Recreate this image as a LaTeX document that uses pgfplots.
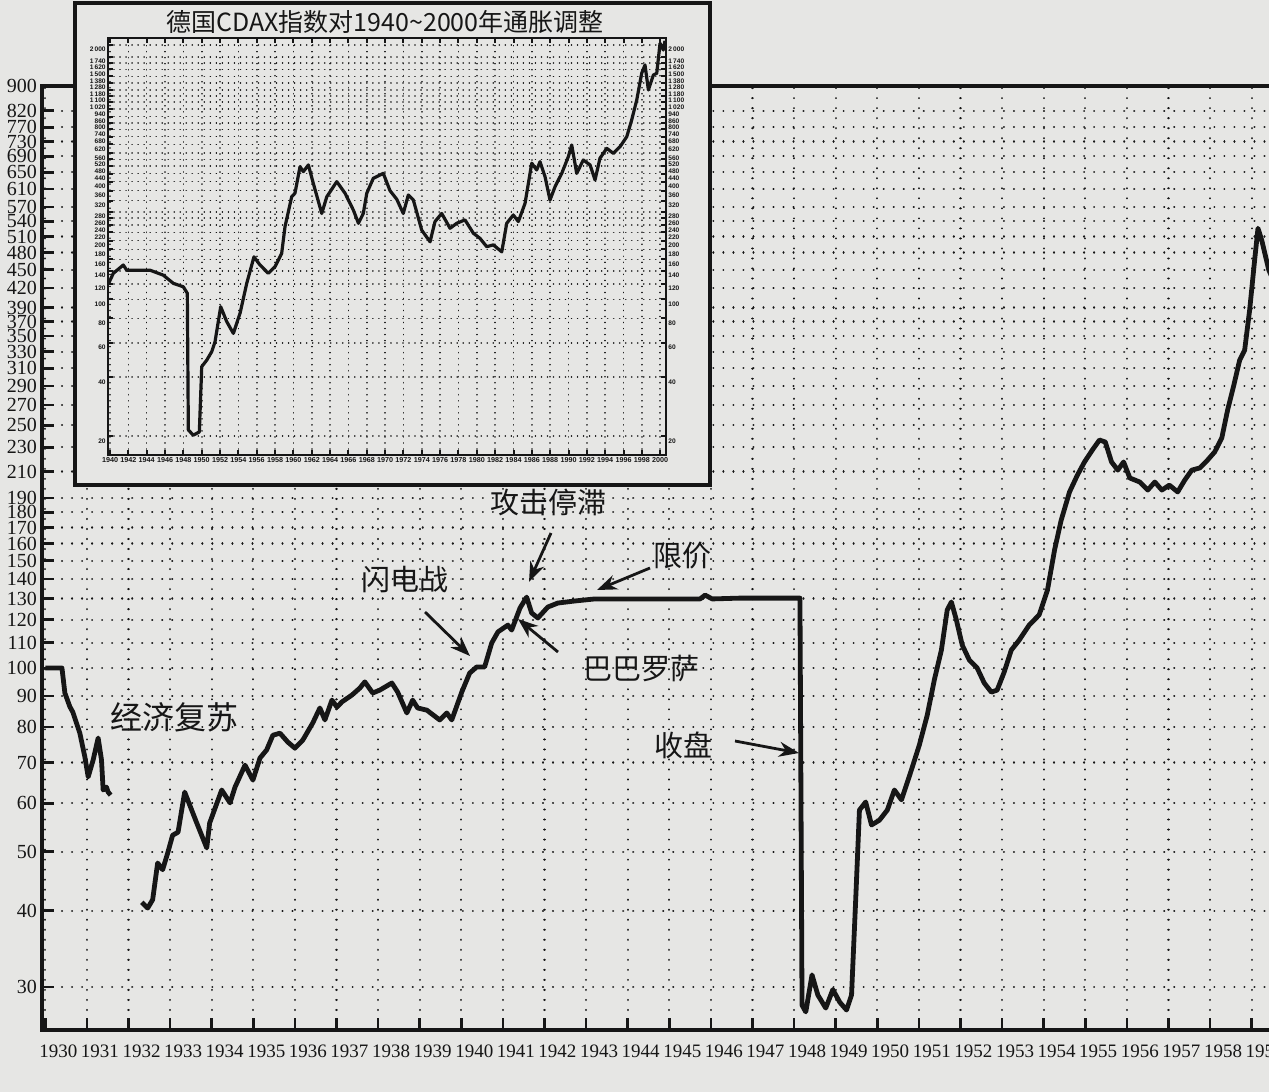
\documentclass[border=0pt]{standalone}
\usepackage{pgfplots}
\pgfplotsset{compat=1.18}
\usepackage{fontspec}
\setmainfont{Liberation Serif}
\newfontfamily\cjk{Noto Sans CJK SC}
\newfontfamily\insetfont{Liberation Sans}
\usetikzlibrary{arrows.meta}
\definecolor{paper}{RGB}{230,230,228}
\definecolor{ink}{RGB}{22,22,22}
\begin{document}
\begin{tikzpicture}
\begin{scope}[x=0.5pt,y=-0.5pt]
\fill[paper] (0,0) rectangle (1269,1092);
\end{scope}
% ---------------- main chart ----------------
\begin{axis}[
  at={(21pt,-515pt)}, anchor=south west, scale only axis,
  width=624pt, height=472pt,
  xmin=1929.92, xmax=1959.92,
  ymode=log, ymin=25.5, ymax=900,
  axis line style={line width=1.6pt, ink},
  xtick={1930,...,1959},
  xticklabels={1930,1931,1932,1933,1934,1935,1936,1937,1938,1939,1940,1941,1942,1943,1944,1945,1946,1947,1948,1949,1950,1951,1952,1953,1954,1955,1956,1957,1958,1959},
  minor x tick num=3,
  xtick pos=bottom, ytick pos=left,
  major tick length=6pt, minor tick length=3.5pt,
  every tick/.style={line width=1.3pt, ink},
  ytick={30,40,50,60,70,80,90,100,110,120,130,140,150,160,170,180,190,210,230,250,270,290,310,330,350,370,390,420,450,480,510,540,570,610,650,690,730,770,820,900},
  yticklabels={30,40,50,60,70,80,90,100,110,120,130,140,150,160,170,180,190,210,230,250,270,290,310,330,350,370,390,420,450,480,510,540,570,610,650,690,730,770,820,900},
  grid=major,
  major grid style={ink, line width=1.1pt, line cap=round, dash pattern=on 0.01pt off 5pt},
  xticklabel style={font=\fontsize{9.5}{9.5}\selectfont, xshift=6.5pt, yshift=-4pt, text=ink},
  yticklabel style={font=\fontsize{10}{10}\selectfont, text=ink, xshift=1pt, inner ysep=0pt, text height=0.66em, text depth=0pt},
]
\addplot[ink, line width=2.4pt, line join=round, mark=none] coordinates {
(1930.00,100)(1930.40,100)(1930.47,91)(1930.59,86.4)(1930.66,84.7)(1930.83,78.2)(1930.95,71.5)(1931.03,66.3)(1931.15,70.7)(1931.27,76.8)(1931.35,70.7)(1931.39,63.1)(1931.47,63.8)(1931.51,62.6)(1931.57,61.9)
};
\addplot[ink, line width=2.4pt, line join=round, mark=none] coordinates {
(1932.32,41.3)(1932.46,40.4)(1932.58,41.7)(1932.70,47.9)(1932.82,46.7)(1932.94,49.7)(1933.06,53.2)(1933.19,53.8)(1933.35,62.6)(1933.64,55.7)(1933.88,50.7)(1933.95,55.7)(1934.24,63.1)(1934.44,60.1)(1934.56,63.8)(1934.80,69.3)(1934.99,65.5)(1935.16,71.2)(1935.32,73.4)(1935.47,77.6)(1935.64,78.2)(1935.83,75.6)(1936.00,73.9)(1936.19,76.2)(1936.43,81.3)(1936.60,86.0)(1936.72,82.2)(1936.89,88.6)(1937.01,86.3)(1937.13,88.0)(1937.37,90.3)(1937.56,92.7)(1937.68,94.9)(1937.87,91.0)(1938.04,92.0)(1938.33,94.5)(1938.47,91.3)(1938.69,84.4)(1938.83,88.6)(1938.95,86.0)(1939.17,85.3)(1939.48,82.2)(1939.65,84.4)(1939.77,82.2)(1940.01,91.3)(1940.20,98.1)(1940.37,100.4)(1940.56,100.4)(1940.73,109.9)(1940.88,114.6)(1941.12,117.6)(1941.21,115.4)(1941.41,125.4)(1941.57,130.7)(1941.69,123.1)(1941.84,120.8)(1942.08,125.9)(1942.32,127.8)(1942.73,128.8)(1943.21,129.8)(1944.54,129.8)(1945.74,129.8)(1945.86,131.7)(1946.03,129.8)(1946.70,130.2)(1948.14,130.2)(1948.19,28.0)(1948.28,27.3)(1948.43,31.4)(1948.57,29.1)(1948.76,27.7)(1948.93,29.7)(1949.10,28.3)(1949.26,27.5)(1949.38,29.1)(1949.48,41.7)(1949.57,58.5)(1949.72,60.3)(1949.86,55.3)(1950.05,56.3)(1950.24,58.5)(1950.41,63.1)(1950.58,60.8)(1950.82,68.1)(1951.01,74.8)(1951.20,83.7)(1951.37,95.6)(1951.54,107.0)(1951.68,124.5)(1951.78,128.3)(1951.90,119.9)(1952.04,109.1)(1952.21,103.1)(1952.40,100)(1952.57,94.5)(1952.74,91.3)(1952.88,92.0)(1953.05,98.5)(1953.22,107.0)(1953.41,111.1)(1953.65,117.6)(1953.89,122.2)(1954.09,134.2)(1954.26,156.1)(1954.42,174.8)(1954.62,194.4)(1954.81,207.2)(1954.98,217.7)(1955.17,227.8)(1955.34,236.5)(1955.48,234.7)(1955.63,217.7)(1955.78,211.1)(1955.92,217.7)(1956.07,204.9)(1956.31,201.8)(1956.50,195.8)(1956.67,201.8)(1956.84,195.8)(1957.02,199.5)(1957.22,194.4)(1957.39,203.3)(1957.56,211.1)(1957.75,212.8)(1957.94,219.3)(1958.11,226.1)(1958.28,238.3)(1958.42,264.8)(1958.57,291.0)(1958.71,319.8)(1958.83,332.1)(1958.95,386.4)(1959.07,466.6)(1959.15,526)(1959.24,503)(1959.41,449.3)(1959.60,420)
};
\end{axis}
% ---------------- inset frame ----------------
\begin{scope}[x=0.5pt,y=-0.5pt]
\draw[ink, line width=2pt, fill=paper] (75,3) rectangle (710,485);
\node[font=\cjk\fontsize{12.5}{12.5}\selectfont, text=ink] at (385,22) {德国CDAX指数对1940\textasciitilde 2000年通胀调整};
\end{scope}
% ---------------- inset chart ----------------
\begin{axis}[
  at={(54pt,-227.5pt)}, anchor=south west, scale only axis,
  width=279pt, height=208.5pt,
  xmin=1939.78, xmax=2000.63,
  ymode=log, ymin=16, ymax=2171,
  axis line style={line width=1.3pt, ink},
  xtick={1940,1942,...,2000},
  xticklabels={1940,1942,1944,1946,1948,1950,1952,1954,1956,1958,1960,1962,1964,1966,1968,1970,1972,1974,1976,1978,1980,1982,1984,1986,1988,1990,1992,1994,1996,1998,2000},
  minor x tick num=1,
  xtick pos=both, ytick pos=both, yticklabel pos=left,
  major tick length=2.6pt, minor tick length=1.5pt,
  every tick/.style={line width=1pt, ink},
  ytick={20,40,60,80,100,120,140,160,180,200,220,240,260,280,320,360,400,440,480,520,560,620,680,740,800,860,940,1020,1100,1180,1280,1380,1500,1620,1740,2000},
  yticklabels={20,40,60,80,100,120,140,160,180,200,220,240,260,280,320,360,400,440,480,520,560,620,680,740,800,860,940,1\,020,1\,100,1\,180,1\,280,1\,380,1\,500,1\,620,1\,740,2\,000},
  grid=major,
  major grid style={ink, line width=0.8pt, line cap=round, dash pattern=on 0.01pt off 3pt},
  xticklabel style={font=\insetfont\bfseries\fontsize{3.6}{3.6}\selectfont, text=ink, inner sep=1pt},
  yticklabel style={font=\insetfont\bfseries\fontsize{3.3}{3.3}\selectfont, text=ink, inner xsep=1pt, inner ysep=0pt, text height=0.7em, text depth=0pt},
]
\addplot[ink, line width=1.6pt, line join=round, mark=none] coordinates {
(1939.85,120.8)(1940.36,135.9)(1941.45,149.9)(1941.82,141)(1944.36,141)(1945.81,133)(1946.90,120.8)(1947.99,116)(1948.43,107.4)(1948.54,21.5)(1949.08,20.2)(1949.74,21.0)(1950.00,45.3)(1950.55,48.9)(1951.09,54)(1951.45,60.7)(1952.07,91.7)(1952.73,76.9)(1953.45,67)(1954.18,84.9)(1954.91,120.8)(1955.70,165)(1956.36,149.9)(1957.26,135.9)(1957.99,146.9)(1958.72,172)(1959.08,235)(1959.81,335)(1960.17,349)(1960.72,477)(1961.08,450)(1961.63,487)(1962.17,392)(1963.09,275)(1963.64,335)(1964.73,400)(1965.63,349)(1966.54,286)(1967.09,245)(1967.62,275)(1968.00,349)(1968.71,416)(1969.80,441)(1970.53,360)(1971.27,325)(1971.98,275)(1972.53,342)(1973.08,322)(1973.99,226)(1974.90,197)(1975.44,250)(1976.17,275)(1977.08,231)(1977.81,245)(1978.71,255)(1979.62,218)(1980.35,205)(1981.08,186)(1981.80,190)(1982.72,175)(1983.26,245)(1983.98,270)(1984.53,250)(1985.26,310)(1985.99,497)(1986.53,459)(1986.89,506)(1987.44,424)(1987.98,322)(1988.53,377)(1989.26,441)(1989.98,537)(1990.35,616)(1990.89,441)(1991.61,516)(1992.35,487)(1992.89,408)(1993.43,527)(1994.17,592)(1994.89,558)(1995.62,604)(1996.35,679)(1996.89,827)(1997.44,1047)(1997.98,1433)(1998.34,1580)(1998.71,1178)(1999.25,1404)(1999.62,1433)(1999.98,2040)(2000.34,1884)(2000.52,2100)
};
\end{axis}
\begin{axis}[
  at={(54pt,-227.5pt)}, anchor=south west, scale only axis,
  width=279pt, height=208.5pt,
  xmin=1939.78, xmax=2000.63,
  ymode=log, ymin=16, ymax=2171,
  axis line style={line width=1.3pt, ink},
  xtick=\empty,
  ytick pos=right, yticklabel pos=right,
  major tick length=2.6pt,
  every tick/.style={line width=1pt, ink},
  ytick={20,40,60,80,100,120,140,160,180,200,220,240,260,280,320,360,400,440,480,520,560,620,680,740,800,860,940,1020,1100,1180,1280,1380,1500,1620,1740,2000},
  yticklabels={20,40,60,80,100,120,140,160,180,200,220,240,260,280,320,360,400,440,480,520,560,620,680,740,800,860,940,1\,020,1\,100,1\,180,1\,280,1\,380,1\,500,1\,620,1\,740,2\,000},
  yticklabel style={font=\insetfont\bfseries\fontsize{3.3}{3.3}\selectfont, text=ink, inner xsep=1pt, inner ysep=0pt, text height=0.7em, text depth=0pt},
]
\addplot[draw=none] coordinates {(1950,100)};
\end{axis}
% ---------------- annotations ----------------
\begin{scope}[x=0.5pt,y=-0.5pt, every node/.style={font=\cjk\fontsize{14.5}{14.5}\selectfont, text=ink}]
\node[font=\cjk\fontsize{16}{16}\selectfont] at (174,717) {经济复苏};
\node at (405,580) {闪电战};
\node at (548,502) {攻击停滞};
\node at (682,556) {限价};
\node at (641,668) {巴巴罗萨};
\node at (683,745) {收盘};
\begin{scope}[ink, line width=1.4pt, -{Stealth[length=10pt,width=7.5pt]}]
\draw (425,612) -- (470,656);
\draw (551,533) -- (529,582);
\draw (650,568) -- (597,590);
\draw (558,652) -- (518,619);
\draw (735,741) -- (799,753);
\end{scope}
\end{scope}
\pgfresetboundingbox
\useasboundingbox (0,0) rectangle (634.5pt,-546pt);
\end{tikzpicture}
\end{document}
